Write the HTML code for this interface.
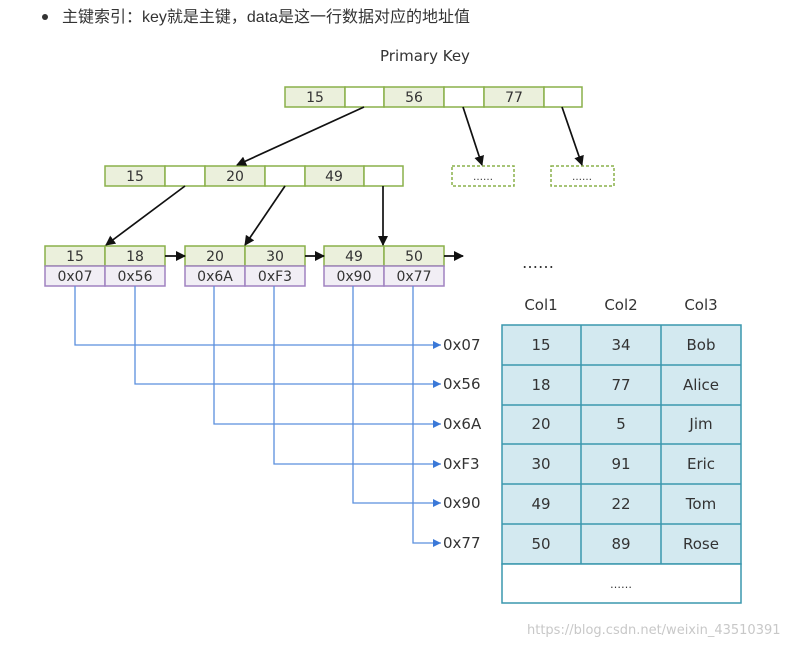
<!DOCTYPE html>
<html><head><meta charset="utf-8"><style>
html,body{margin:0;padding:0;background:#fff;width:805px;height:646px;overflow:hidden}
svg{display:block}
text{font-family:"DejaVu Sans","Liberation Sans",sans-serif;fill:#333}
</style></head><body>
<svg width="805" height="646" viewBox="0 0 805 646" xmlns="http://www.w3.org/2000/svg">
<defs>
<marker id="ab" markerWidth="10" markerHeight="10" refX="9" refY="5" orient="auto" markerUnits="userSpaceOnUse"><path d="M0,0 L10,5 L0,10 z" fill="#111"/></marker>
<marker id="bl" markerWidth="8" markerHeight="8" refX="8" refY="4" orient="auto" markerUnits="userSpaceOnUse"><path d="M0,0 L8,4 L0,8 z" fill="#3a78d8"/></marker>
</defs>
<circle cx="45" cy="17" r="3" fill="#333"/>
<text x="62" y="22" font-size="16" style='font-family:"Liberation Sans","Noto Sans CJK SC",sans-serif'>主键索引：key就是主键，data是这一行数据对应的地址值</text>
<text x="380" y="61" font-size="15">Primary Key</text>

<g stroke="#8ab04a" stroke-width="1.5">
<rect x="285" y="87" width="60" height="20" fill="#ebf0dc"/><rect x="345" y="87" width="39" height="20" fill="#fff"/>
<rect x="384" y="87" width="60" height="20" fill="#ebf0dc"/><rect x="444" y="87" width="40" height="20" fill="#fff"/>
<rect x="484" y="87" width="60" height="20" fill="#ebf0dc"/><rect x="544" y="87" width="38" height="20" fill="#fff"/>
<rect x="105" y="166" width="60" height="20" fill="#ebf0dc"/><rect x="165" y="166" width="40" height="20" fill="#fff"/>
<rect x="205" y="166" width="60" height="20" fill="#ebf0dc"/><rect x="265" y="166" width="40" height="20" fill="#fff"/>
<rect x="305" y="166" width="59" height="20" fill="#ebf0dc"/><rect x="364" y="166" width="39" height="20" fill="#fff"/>
<rect x="452" y="166" width="62" height="20" fill="#fff" stroke-dasharray="3,2"/>
<rect x="551" y="166" width="63" height="20" fill="#fff" stroke-dasharray="3,2"/>
<rect x="45" y="246" width="60" height="20" fill="#ebf0dc"/><rect x="105" y="246" width="60" height="20" fill="#ebf0dc"/>
<rect x="185" y="246" width="60" height="20" fill="#ebf0dc"/><rect x="245" y="246" width="60" height="20" fill="#ebf0dc"/>
<rect x="324" y="246" width="60" height="20" fill="#ebf0dc"/><rect x="384" y="246" width="60" height="20" fill="#ebf0dc"/>
</g>
<g stroke="#a082c0" stroke-width="1.5" fill="#f1eef5">
<rect x="45" y="266" width="60" height="20"/><rect x="105" y="266" width="60" height="20"/>
<rect x="185" y="266" width="60" height="20"/><rect x="245" y="266" width="60" height="20"/>
<rect x="324" y="266" width="60" height="20"/><rect x="384" y="266" width="60" height="20"/>
</g>
<g font-size="14" text-anchor="middle">
<text x="315" y="102">15</text><text x="414" y="102">56</text><text x="514" y="102">77</text>
<text x="135" y="181">15</text><text x="235" y="181">20</text><text x="334" y="181">49</text>
<text x="483" y="180" font-size="10">……</text><text x="582" y="180" font-size="10">……</text>
<text x="75" y="261">15</text><text x="135" y="261">18</text><text x="215" y="261">20</text><text x="275" y="261">30</text><text x="354" y="261">49</text><text x="414" y="261">50</text>
<text x="75" y="281">0x07</text><text x="135" y="281">0x56</text><text x="215" y="281">0x6A</text><text x="275" y="281">0xF3</text><text x="354" y="281">0x90</text><text x="414" y="281">0x77</text>
</g>
<g stroke="#111" stroke-width="1.7" marker-end="url(#ab)">
<line x1="364" y1="107" x2="237" y2="165"/>
<line x1="463" y1="107" x2="482" y2="165"/>
<line x1="562" y1="107" x2="582" y2="165"/>
<line x1="185" y1="186" x2="106" y2="245"/>
<line x1="285" y1="186" x2="245" y2="245"/>
<line x1="383" y1="186" x2="383" y2="245"/>
<line x1="165" y1="256" x2="185" y2="256"/>
<line x1="305" y1="256" x2="324" y2="256"/>
<line x1="444" y1="256" x2="463" y2="256"/>
</g>
<text x="522" y="268" font-size="16">……</text>
<g stroke="#5b8fdd" stroke-width="1.3" fill="none" marker-end="url(#bl)">
<polyline points="75,286 75,345 441,345"/>
<polyline points="135,286 135,384 441,384"/>
<polyline points="214,286 214,424 441,424"/>
<polyline points="274,286 274,464 441,464"/>
<polyline points="353,286 353,503 441,503"/>
<polyline points="413,286 413,543 441,543"/>
</g>
<g font-size="15">
<text x="443" y="350">0x07</text><text x="443" y="389">0x56</text><text x="443" y="429">0x6A</text>
<text x="443" y="469">0xF3</text><text x="443" y="508">0x90</text><text x="443" y="548">0x77</text>
</g>
<g font-size="15" text-anchor="middle">
<text x="541" y="310">Col1</text><text x="621" y="310">Col2</text><text x="701" y="310">Col3</text>
</g>
<g stroke="#3a97ae" stroke-width="1.5">
<rect x="502" y="325" width="239" height="239" fill="#d3e9f0"/>
<rect x="502" y="564" width="239" height="39" fill="#fff"/>
<line x1="581" y1="325" x2="581" y2="564"/><line x1="661" y1="325" x2="661" y2="564"/>
<line x1="502" y1="365" x2="741" y2="365"/><line x1="502" y1="405" x2="741" y2="405"/>
<line x1="502" y1="444" x2="741" y2="444"/><line x1="502" y1="484" x2="741" y2="484"/>
<line x1="502" y1="524" x2="741" y2="524"/>
</g>
<g font-size="15" text-anchor="middle">
<text x="541" y="350">15</text><text x="621" y="350">34</text><text x="701" y="350">Bob</text>
<text x="541" y="390">18</text><text x="621" y="390">77</text><text x="701" y="390">Alice</text>
<text x="541" y="429">20</text><text x="621" y="429">5</text><text x="701" y="429">Jim</text>
<text x="541" y="469">30</text><text x="621" y="469">91</text><text x="701" y="469">Eric</text>
<text x="541" y="509">49</text><text x="621" y="509">22</text><text x="701" y="509">Tom</text>
<text x="541" y="549">50</text><text x="621" y="549">89</text><text x="701" y="549">Rose</text>
<text x="621" y="588" font-size="11">……</text>
</g>
<text x="527" y="634" font-size="13" style="fill:#c8c8c8">https://blog.csdn.net/weixin_43510391</text>
</svg>
</body></html>
